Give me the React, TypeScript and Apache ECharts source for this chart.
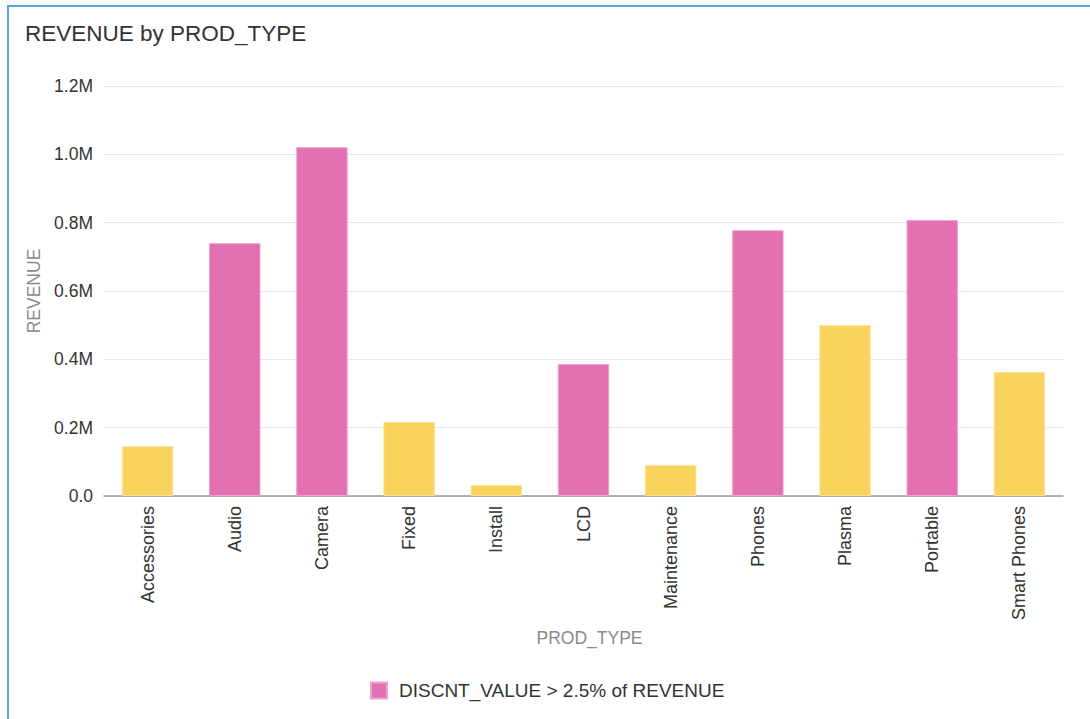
import React, { useEffect, useRef } from "react";
import * as echarts from "echarts";

const categories = ["Accessories", "Audio", "Camera", "Fixed", "Install", "LCD", "Maintenance", "Phones", "Plasma", "Portable", "Smart Phones"];
const revenue = [146000, 740000, 1021000, 217000, 32000, 386000, 91000, 778000, 500000, 808000, 363000];
const highDiscount = [false, true, true, false, false, true, false, true, false, true, false];
const yTicks = [0, 200000, 400000, 600000, 800000, 1000000, 1200000];
const pinkName = "DISCNT_VALUE > 2.5% of REVENUE";
const otherName = "Other";

const PINK = "#E371B2";
const YELLOW = "#F8D45C";
const FONT = "'Liberation Sans', Arial, sans-serif";

export default function App() {
  const ref = useRef<HTMLDivElement>(null);
  useEffect(() => {
    const chart = echarts.init(ref.current!, undefined, { renderer: "svg" });
    const pinkData = revenue.map((v, i) => (highDiscount[i] ? v : "-"));
    const otherData = revenue.map((v, i) => (highDiscount[i] ? "-" : v));
    chart.setOption({
      animation: false,
      textStyle: { fontFamily: FONT },
      title: {
        text: "REVENUE by PROD_TYPE",
        left: 13,
        top: 12,
        textStyle: { fontSize: 22.5, fontWeight: "normal", color: "#333", fontFamily: FONT },
      },
      legend: {
        data: [pinkName],
        bottom: 14,
        left: 358,
        itemWidth: 16,
        itemHeight: 16,
        itemGap: 10,
        icon: "rect",
        textStyle: { fontSize: 19, color: "#333", fontFamily: FONT, padding: [0, 0, 0, 7] },
      },
      grid: { left: 97, right: 27, top: 81, bottom: 223, containLabel: false },
      xAxis: {
        type: "category",
        data: categories,
        name: "PROD_TYPE",
        nameLocation: "middle",
        nameGap: 133,
        nameTextStyle: { fontSize: 17.5, color: "#8a8a8a", fontFamily: FONT, padding: [0, 0, 0, 12] },
        axisLine: { lineStyle: { color: "#999", width: 1.5 } },
        axisTick: { show: false },
        axisLabel: { rotate: 90, fontSize: 18, color: "#333", margin: 10, fontFamily: FONT },
      },
      yAxis: {
        type: "value",
        min: 0,
        max: yTicks[yTicks.length - 1],
        interval: 200000,
        name: "REVENUE",
        nameLocation: "middle",
        nameGap: 61,
        nameTextStyle: { fontSize: 17.5, color: "#8a8a8a", fontFamily: FONT },
        axisLine: { show: false },
        axisTick: { show: false },
        splitLine: { lineStyle: { color: "#e6e8ee", width: 1 } },
        axisLabel: {
          fontSize: 17.5,
          color: "#333",
          margin: 11,
          fontFamily: FONT,
          formatter: (v: number) => (v === 0 ? "0.0" : (v / 1000000).toFixed(1) + "M"),
        },
      },
      series: [
        {
          name: pinkName,
          type: "bar",
          stack: "s",
          data: pinkData,
          barWidth: "59%",
          itemStyle: { color: PINK, borderColor: "#EFA2CF", borderWidth: 1 },
        },
        {
          name: otherName,
          type: "bar",
          stack: "s",
          data: otherData,
          barWidth: "59%",
          itemStyle: { color: YELLOW, borderColor: "#FBE39A", borderWidth: 1 },
        },
      ],
    });
    return () => chart.dispose();
  }, []);
  return (
    <div style={{ position: "absolute", left: 0, top: 0, width: 1090, height: 719, background: "#fff", overflow: "hidden" }}>
      <div style={{ position: "absolute", left: 7, top: 5, width: 1200, height: 800, borderLeft: "2px solid #5BA8DE", borderTop: "2px solid #5BA8DE" }} />
      <div ref={ref} style={{ position: "absolute", left: 7, top: 5, width: 1083, height: 714 }} />
    </div>
  );
}
